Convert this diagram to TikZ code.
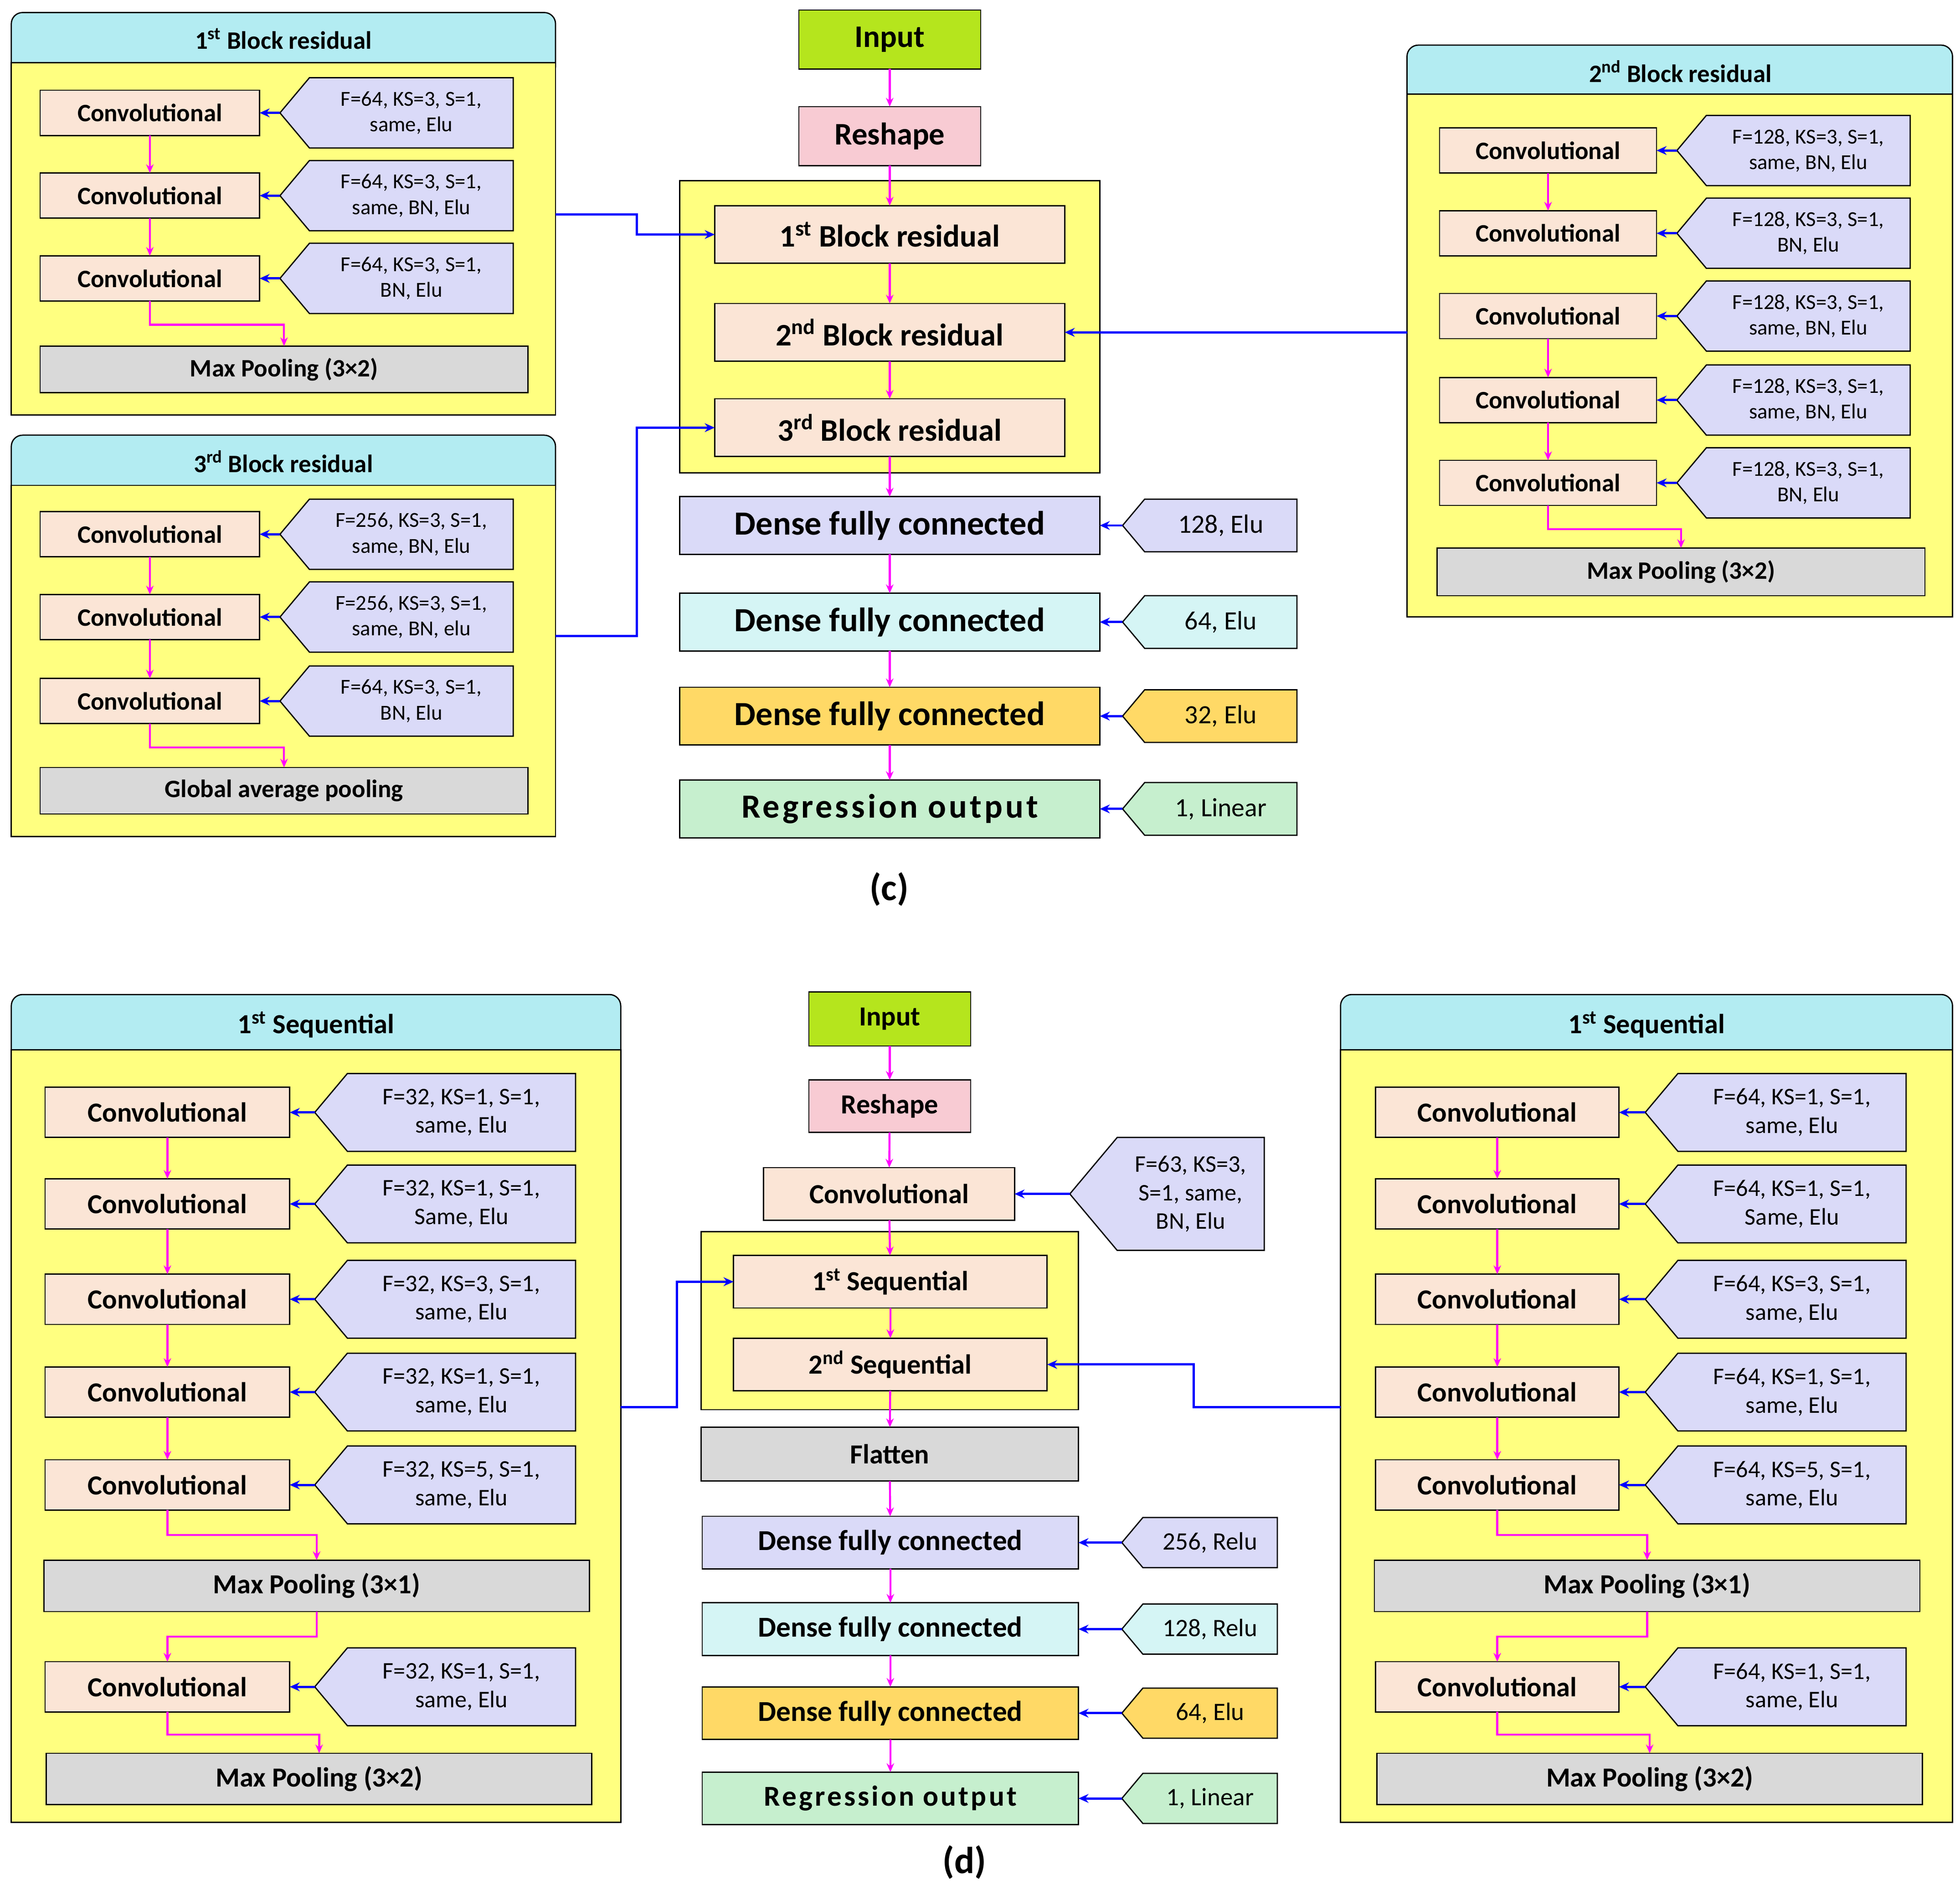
\documentclass[tikz,border=0pt]{standalone}
\usepackage{fontspec}
\setmainfont{Carlito}
\usetikzlibrary{shapes.symbols,arrows.meta}
\definecolor{pan}{HTML}{FFFF80}
\definecolor{hdr}{HTML}{B3ECF2}
\definecolor{peach}{HTML}{FBE5D6}
\definecolor{lav}{HTML}{DADAF8}
\definecolor{gry}{HTML}{D9D9D9}
\definecolor{inp}{HTML}{B5E51D}
\definecolor{rsh}{HTML}{F8CBD3}
\definecolor{cy}{HTML}{D5F5F5}
\definecolor{org}{HTML}{FFD966}
\definecolor{grn}{HTML}{C6EFCE}
\definecolor{pk}{HTML}{FF00FF}
\newcommand\mybox[7][]{\node[#1, minimum width={(#5)-(#3)}, minimum height={(#6)-(#4)}] (#2) at ({((#3)+(#5))/2},{((#4)+(#6))/2}) {#7};}
\newcommand\fs[1]{\fontsize{#1pt}{\dimexpr #1pt*12/10\relax}\selectfont}
\begin{document}
\begin{tikzpicture}[x=1pt,y=-1pt,
 base/.style={draw=black,line width=1pt,inner sep=1pt,outer sep=0pt,align=center},
 conv/.style={base,fill=peach,font=\bfseries\fs{20}},
 pool/.style={base,fill=gry,font=\bfseries\fs{20}},
 tag/.style={base,fill=lav,shape=signal,signal to=west,signal pointer angle=100,font=\fs{17},inner sep=1pt},
 panel/.style={base,fill=pan},
 head/.style={base,fill=hdr,rounded corners=9pt,font=\bfseries\fs{20}},
 pa/.style={pk,line width=1.6pt,-{Stealth[length=7pt,width=6pt]}},
 ba/.style={blue,line width=1.8pt,-{Stealth[length=8pt,width=7pt]}},
 big/.style={base,font=\bfseries\fs{25}},
 dtag/.style={tag,font=\fs{21}}]
\useasboundingbox (0,0) rectangle (1563,1503);

% ===== (c) top-left panel
\mybox[head]{hA}{9}{10}{443}{62}{}
\mybox[panel]{pA}{9}{50}{443}{331}{}
\node[font=\bfseries\fs{20}] at (226,31) {1\textsuperscript{st} Block residual};
\mybox[conv]{a1}{32}{72}{207}{108}{Convolutional}
\mybox[conv]{a2}{32}{138}{207}{174}{Convolutional}
\mybox[conv]{a3}{32}{204}{207}{240}{Convolutional}
\mybox[tag]{ta1}{235}{62}{421}{118}{F=64, KS=3, S=1,\\same, Elu}
\mybox[tag]{ta2}{235}{128}{421}{184}{F=64, KS=3, S=1,\\same, BN, Elu}
\mybox[tag]{ta3}{235}{194}{421}{250}{F=64, KS=3, S=1,\\BN, Elu}
\mybox[pool]{am}{32}{276}{421}{313}{Max Pooling (3×2)}
\draw[pa] (a1) -- (a2); \draw[pa] (a2) -- (a3);
\draw[pa] (a3.south) -- ++(0,19) -| (am.north);
\foreach \i in {1,2,3} \draw[ba] (ta\i.west) -- (a\i.east);

% ===== (c) bottom-left panel
\mybox[head]{hB}{9}{347}{443}{399}{}
\mybox[panel]{pB}{9}{387}{443}{667}{}
\node[font=\bfseries\fs{20}] at (226,368) {3\textsuperscript{rd} Block residual};
\mybox[conv]{b1}{32}{408}{207}{444}{Convolutional}
\mybox[conv]{b2}{32}{474}{207}{510}{Convolutional}
\mybox[conv]{b3}{32}{541}{207}{577}{Convolutional}
\mybox[tag]{tb1}{235}{398}{421}{454}{F=256, KS=3, S=1,\\same, BN, Elu}
\mybox[tag]{tb2}{235}{464}{421}{520}{F=256, KS=3, S=1,\\same, BN, elu}
\mybox[tag]{tb3}{235}{531}{421}{587}{F=64, KS=3, S=1,\\BN, Elu}
\mybox[pool]{bm}{32}{612}{421}{649}{Global average pooling}
\draw[pa] (b1) -- (b2); \draw[pa] (b2) -- (b3);
\draw[pa] (b3.south) -- ++(0,19) -| (bm.north);
\foreach \i in {1,2,3} \draw[ba] (tb\i.west) -- (b\i.east);

% ===== (c) right panel
\mybox[head]{hC}{1122}{36}{1557}{88}{}
\mybox[panel]{pC}{1122}{75}{1557}{492}{}
\node[font=\bfseries\fs{20}] at (1340,57) {2\textsuperscript{nd} Block residual};
\foreach \i/\y in {1/120,2/186,3/252,4/319,5/385}{
 \mybox[conv]{r\i}{1148}{\y-18}{1321}{\y+18}{Convolutional}
}
\mybox[tag]{tr1}{1349}{92}{1535}{148}{F=128, KS=3, S=1,\\same, BN, Elu}
\mybox[tag]{tr2}{1349}{158}{1535}{214}{F=128, KS=3, S=1,\\BN, Elu}
\mybox[tag]{tr3}{1349}{224}{1535}{280}{F=128, KS=3, S=1,\\same, BN, Elu}
\mybox[tag]{tr4}{1349}{291}{1535}{347}{F=128, KS=3, S=1,\\same, BN, Elu}
\mybox[tag]{tr5}{1349}{357}{1535}{413}{F=128, KS=3, S=1,\\BN, Elu}
\mybox[pool]{rm}{1146}{437}{1535}{475}{Max Pooling (3×2)}
\draw[pa] (r1) -- (r2); \draw[pa] (r3) -- (r4); \draw[pa] (r4) -- (r5);
\draw[pa] (r5.south) -- ++(0,19) -| (rm.north);
\foreach \i in {1,...,5} \draw[ba] (tr\i.west) -- (r\i.east);

% ===== (c) centre
\mybox[big,fill=inp]{cin}{637}{8}{782}{55}{Input}
\mybox[big,fill=rsh]{crs}{637}{85}{782}{132}{Reshape}
\mybox[panel]{cyb}{542}{144}{877}{377}{}
\mybox[big,fill=peach]{k1}{570}{164}{849}{210}{1\textsuperscript{st} Block residual}
\mybox[big,fill=peach]{k2}{570}{242}{849}{288}{2\textsuperscript{nd} Block residual}
\mybox[big,fill=peach]{k3}{570}{318}{849}{364}{3\textsuperscript{rd} Block residual}
\mybox[big,fill=lav,font=\bfseries\fs{27}]{d1}{542}{396}{877}{442}{Dense fully connected}
\mybox[big,fill=cy,font=\bfseries\fs{27}]{d2}{542}{473}{877}{519}{Dense fully connected}
\mybox[big,fill=org,font=\bfseries\fs{27}]{d3}{542}{548}{877}{594}{Dense fully connected}
\mybox[big,fill=grn,font=\bfseries\fs{27}]{d4}{542}{622}{877}{668}{\addfontfeature{LetterSpace=8}Regression output}
\mybox[dtag]{td1}{904}{398}{1043}{440}{128, Elu}
\mybox[dtag,fill=cy]{td2}{904}{475}{1043}{517}{64, Elu}
\mybox[dtag,fill=org]{td3}{904}{550}{1043}{592}{32, Elu}
\mybox[dtag,fill=grn]{td4}{904}{624}{1043}{666}{1, Linear}
\draw[pa] (cin) -- (crs); \draw[pa] (crs) -- (k1); \draw[pa] (k1) -- (k2); \draw[pa] (k2) -- (k3);
\draw[pa] (k3) -- (d1); \draw[pa] (d1) -- (d2); \draw[pa] (d2) -- (d3); \draw[pa] (d3) -- (d4);
\foreach \i in {1,...,4} \draw[ba] (td\i.west) -- (d\i.east);
\coordinate (cA) at (443,171); \coordinate (cB) at (443,507); \coordinate (cC) at (1122,265);
\draw[ba] (cA) -- (508,171) |- (k1.west);
\draw[ba] (cB) -- (508,507) |- (k3.west);
\draw[ba] (cC) -- (k2.east);
\node[font=\bfseries\fs{30}] (lc) at (709,709) {(c)};

% ===== (d) left panel
\mybox[head]{hD}{9}{793}{495}{850}{}
\mybox[panel]{pD}{9}{837}{495}{1453}{}
\node[font=\bfseries\fs{22}] at (252,817) {1\textsuperscript{st} Sequential};
\foreach \i/\y in {1/887,2/960,3/1036,4/1110,5/1184,6/1345}{
 \mybox[conv,font=\bfseries\fs{22}]{l\i}{36}{\y-20}{231}{\y+20}{Convolutional}
}
\mybox[tag,font=\fs{19}]{tl1}{264}{856}{472}{918}{F=32, KS=1, S=1,\\same, Elu}
\mybox[tag,font=\fs{19}]{tl2}{264}{929}{472}{991}{F=32, KS=1, S=1,\\Same, Elu}
\mybox[tag,font=\fs{19}]{tl3}{264}{1005}{472}{1067}{F=32, KS=3, S=1,\\same, Elu}
\mybox[tag,font=\fs{19}]{tl4}{264}{1079}{472}{1141}{F=32, KS=1, S=1,\\same, Elu}
\mybox[tag,font=\fs{19}]{tl5}{264}{1153}{472}{1215}{F=32, KS=5, S=1,\\same, Elu}
\mybox[tag,font=\fs{19}]{tl6}{264}{1314}{472}{1376}{F=32, KS=1, S=1,\\same, Elu}
\mybox[pool,font=\bfseries\fs{22}]{lm1}{35}{1244}{470}{1285}{Max Pooling (3×1)}
\mybox[pool,font=\bfseries\fs{22}]{lm2}{37}{1398}{472}{1439}{Max Pooling (3×2)}
\draw[pa] (l1) -- (l2); \draw[pa] (l2) -- (l3); \draw[pa] (l3) -- (l4); \draw[pa] (l4) -- (l5);
\draw[pa] (l5.south) -- ++(0,20) -| (lm1.north);
\draw[pa] (lm1.south) -- ++(0,20) -| (l6.north);
\draw[pa] (l6.south) -- ++(0,18) -| (lm2.north);
\foreach \i in {1,...,6} \draw[ba] (tl\i.west) -- (l\i.east);

% ===== (d) right panel
\mybox[head]{hE}{1069}{793}{1557}{850}{}
\mybox[panel]{pE}{1069}{837}{1557}{1453}{}
\node[font=\bfseries\fs{22}] at (1313,817) {1\textsuperscript{st} Sequential};
\foreach \i/\y in {1/887,2/960,3/1036,4/1110,5/1184,6/1345}{
 \mybox[conv,font=\bfseries\fs{22}]{q\i}{1097}{\y-20}{1291}{\y+20}{Convolutional}
}
\mybox[tag,font=\fs{19}]{tq1}{1325}{856}{1533}{918}{F=64, KS=1, S=1,\\same, Elu}
\mybox[tag,font=\fs{19}]{tq2}{1325}{929}{1533}{991}{F=64, KS=1, S=1,\\Same, Elu}
\mybox[tag,font=\fs{19}]{tq3}{1325}{1005}{1533}{1067}{F=64, KS=3, S=1,\\same, Elu}
\mybox[tag,font=\fs{19}]{tq4}{1325}{1079}{1533}{1141}{F=64, KS=1, S=1,\\same, Elu}
\mybox[tag,font=\fs{19}]{tq5}{1325}{1153}{1533}{1215}{F=64, KS=5, S=1,\\same, Elu}
\mybox[tag,font=\fs{19}]{tq6}{1325}{1314}{1533}{1376}{F=64, KS=1, S=1,\\same, Elu}
\mybox[pool,font=\bfseries\fs{22}]{qm1}{1096}{1244}{1531}{1285}{Max Pooling (3×1)}
\mybox[pool,font=\bfseries\fs{22}]{qm2}{1098}{1398}{1533}{1439}{Max Pooling (3×2)}
\draw[pa] (q1) -- (q2); \draw[pa] (q2) -- (q3); \draw[pa] (q3) -- (q4); \draw[pa] (q4) -- (q5);
\draw[pa] (q5.south) -- ++(0,20) -| (qm1.north);
\draw[pa] (qm1.south) -- ++(0,20) -| (q6.north);
\draw[pa] (q6.south) -- ++(0,18) -| (qm2.north);
\foreach \i in {1,...,6} \draw[ba] (tq\i.west) -- (q\i.east);

% ===== (d) centre
\mybox[big,fill=inp,font=\bfseries\fs{22}]{din}{645}{791}{774}{834}{Input}
\mybox[big,fill=rsh,font=\bfseries\fs{22}]{drs}{645}{861}{774}{903}{Reshape}
\mybox[conv,font=\bfseries\fs{22}]{dcv}{609}{931}{809}{973}{Convolutional}
\mybox[tag,font=\fs{19}]{tdcv}{872}{907}{1027}{997}{F=63, KS=3,\\S=1, same,\\BN, Elu}
\mybox[panel]{dyb}{559}{982}{860}{1124}{}
\mybox[conv,font=\bfseries\fs{22}]{s1}{585}{1001}{835}{1043}{1\textsuperscript{st} Sequential}
\mybox[conv,font=\bfseries\fs{22}]{s2}{585}{1067}{835}{1109}{2\textsuperscript{nd} Sequential}
\mybox[pool,font=\bfseries\fs{22}]{fl}{559}{1138}{860}{1181}{Flatten}
\mybox[big,fill=lav,font=\bfseries\fs{23}]{e1}{560}{1209}{860}{1251}{Dense fully connected}
\mybox[big,fill=cy,font=\bfseries\fs{23}]{e2}{560}{1278}{860}{1320}{Dense fully connected}
\mybox[big,fill=org,font=\bfseries\fs{23}]{e3}{560}{1345}{860}{1387}{Dense fully connected}
\mybox[big,fill=grn,font=\bfseries\fs{23}]{e4}{560}{1413}{860}{1455}{\addfontfeature{LetterSpace=8}Regression output}
\mybox[dtag,font=\fs{20}]{te1}{903}{1210}{1027}{1250}{256, Relu}
\mybox[dtag,fill=cy,font=\fs{20}]{te2}{903}{1279}{1027}{1319}{128, Relu}
\mybox[dtag,fill=org,font=\fs{20}]{te3}{903}{1346}{1027}{1386}{64, Elu}
\mybox[dtag,fill=grn,font=\fs{20}]{te4}{903}{1414}{1027}{1454}{1, Linear}
\draw[pa] (din) -- (drs); \draw[pa] (drs) -- (dcv); \draw[pa] (dcv) -- (s1); \draw[pa] (s1) -- (s2);
\draw[pa] (s2) -- (fl); \draw[pa] (fl) -- (e1); \draw[pa] (e1) -- (e2); \draw[pa] (e2) -- (e3); \draw[pa] (e3) -- (e4);
\draw[ba] (tdcv.west) -- (dcv.east);
\foreach \i in {1,...,4} \draw[ba] (te\i.west) -- (e\i.east);
\coordinate (cD) at (495,1122); \coordinate (cE) at (1069,1122);
\draw[ba] (cD) -- (540,1122) |- (s1.west);
\draw[ba] (cE) -- (952,1122) |- (s2.east);
\node[font=\bfseries\fs{30}] (ld) at (769,1485) {(d)};
\end{tikzpicture}
\end{document}
